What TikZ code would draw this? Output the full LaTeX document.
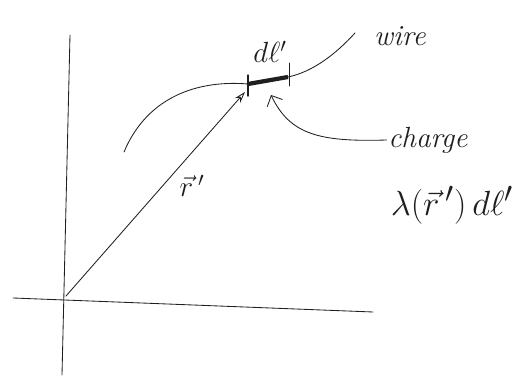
\documentclass[tikz,border=0pt]{standalone}
\usepackage{amsmath}
\usepackage{tikz}
\usetikzlibrary{positioning,arrows.meta,calc}
\definecolor{penInk}{HTML}{1F1F1F}
\tikzset{
  pen/.style={draw=penInk, line width=0.6pt, line cap=round},
  hand/.style={font=\huge, text=penInk, inner sep=1pt}
}

\begin{document}
\begin{tikzpicture}[x=0.025cm, y=-0.025cm]
\useasboundingbox (0,0) rectangle (527,379);
% axes
\coordinate (O) at (66,296);
\coordinate (ytop) at (70,35);
\coordinate (ybot) at (62,375);
\coordinate (xleft) at (13,298);
\coordinate (xright) at (373,312);
\draw[pen] (ybot) -- (ytop);
\draw[pen] (xleft) -- (xright);
% wire with the element dl'
\coordinate (wstart) at (124,152);
\coordinate (dlA) at (248,84);
\coordinate (dlB) at (288,77);
\coordinate (wend) at (355,33);
\draw[pen] (wstart) .. controls (148,95) and (200,80) .. (dlA);
\draw[pen] (dlB) .. controls (312,72) and (335,55) .. (wend);
\draw[draw=penInk, line width=3pt] (dlA) -- (dlB);
\draw[pen, line width=1pt] ($(dlA)+(0,-9)$) -- ($(dlA)+(0,12)$);
\draw[pen] ($(dlB)+(1,-14)$) -- ($(dlB)+(1,9)$);
% source vector r'
\coordinate (P) at (245,92);
\draw[pen, -{Stealth[open, length=8pt, width=5pt]}] (O) -- (P);
% labels
\node[hand] (dl) at (270,52) {$d\ell'$};
\node[hand] (wire) at (400,36) {\textit{wire}};
\node[hand] (charge) at (428,140) {\textit{charge}};
\node[hand, font=\Huge] (density) at (452,205) {$\lambda(\vec r\,')\,d\ell'$};
\node[hand] (rvec) at (192,186) {$\vec r\,'$};
% pointer from charge label
\coordinate (hit) at (271,95);
\draw[pen, -{Straight Barb[length=6pt]}] (charge.west) .. controls (320,142) and (290,135) .. (hit);
\end{tikzpicture}
\end{document}
